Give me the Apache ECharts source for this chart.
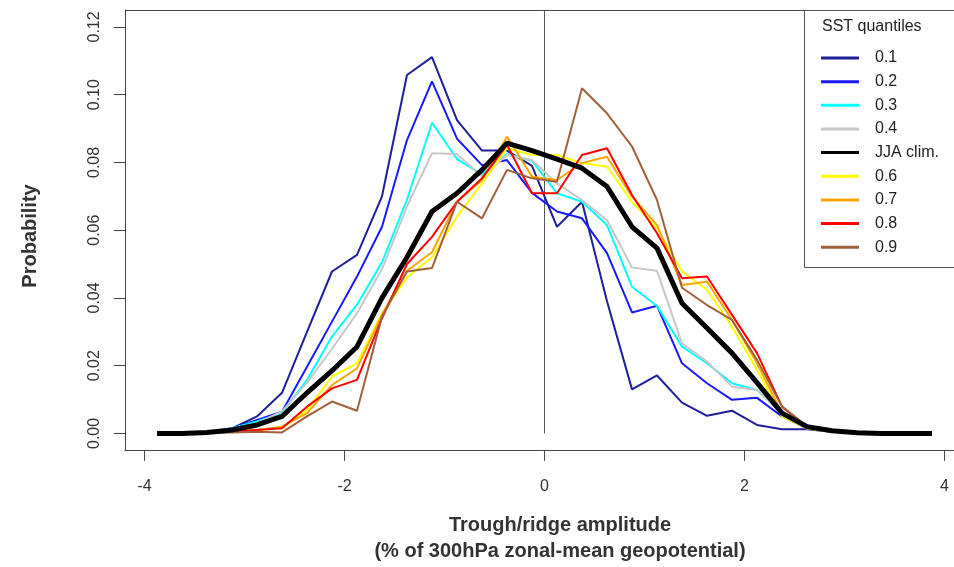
<!DOCTYPE html>
<html>
<head>
<meta charset="utf-8">
<script src="https://cdn.jsdelivr.net/npm/echarts@6/dist/echarts.min.js"></script>
<style>html,body{margin:0;padding:0;background:#fff}#c{width:954px;height:567px}</style>
</head>
<body>
<div id="c"></div>
<script>
var binCenters = [-3.875,-3.625,-3.375,-3.125,-2.875,-2.625,-2.375,-2.125,-1.875,-1.625,-1.375,-1.125,-0.875,-0.625,-0.375,-0.125,
                  0.125,0.375,0.625,0.875,1.125,1.375,1.625,1.875,2.125,2.375,2.625,2.875,3.125,3.375,3.625,3.875];
var xTicks = [-4,-2,0,2,4];
var yTicks = [0,0.02,0.04,0.06,0.08,0.10,0.12];

var q01 = [0,0,0.0003,0.0015,0.005,0.012,0.030,0.0478,0.0527,0.070,0.1058,0.1111,0.0925,0.0835,0.0835,0.079,
           0.061,0.0684,0.039,0.013,0.0171,0.0091,0.0052,0.0067,0.0025,0.0012,0.0012,0.0005,0.0002,0,0,0];
var q02 = [0,0,0.0003,0.0015,0.004,0.0064,0.0197,0.0330,0.0463,0.061,0.0866,0.1039,0.087,0.0792,0.0807,0.071,
           0.0655,0.0635,0.0532,0.0357,0.0377,0.0207,0.0148,0.0099,0.0105,0.005,0.0015,0.0005,0.0002,0,0,0];
var q03 = [0,0,0.0003,0.0015,0.0035,0.006,0.0158,0.0286,0.038,0.0505,0.069,0.0917,0.081,0.0765,0.0825,0.0805,
           0.0709,0.0684,0.0615,0.0433,0.0376,0.0256,0.0207,0.0148,0.0128,0.006,0.0015,0.0005,0.0002,0,0,0];
var q04 = [0,0,0.0003,0.0012,0.003,0.0065,0.015,0.025,0.0355,0.0485,0.067,0.0827,0.0825,0.0758,0.0822,0.0807,
           0.0738,0.0689,0.063,0.049,0.048,0.0266,0.0212,0.0138,0.0128,0.006,0.0015,0.0005,0.0002,0,0,0];
var jjaClim = [0,0,0.0003,0.001,0.0025,0.005,0.012,0.0185,0.0256,0.040,0.052,0.0655,0.0709,0.0778,0.0857,0.0835,
           0.081,0.0783,0.0729,0.061,0.0547,0.0384,0.0311,0.0237,0.015,0.006,0.002,0.0008,0.0002,0,0,0];
var q06 = [0,0,0.0002,0.0005,0.001,0.0015,0.0069,0.0168,0.0207,0.0355,0.046,0.052,0.064,0.0738,0.0842,0.0822,
           0.0822,0.0798,0.0788,0.0684,0.0606,0.0478,0.0424,0.0315,0.0187,0.005,0.0015,0.0005,0.0002,0,0,0];
var q07 = [0,0,0.0002,0.0005,0.001,0.002,0.006,0.0143,0.0192,0.035,0.048,0.0535,0.0684,0.0748,0.0876,0.0758,
           0.0748,0.0798,0.0817,0.0699,0.0615,0.0438,0.0448,0.0335,0.0207,0.006,0.0015,0.0005,0.0002,0,0,0];
var q08 = [0,0,0.0002,0.0005,0.001,0.0015,0.0079,0.0133,0.0158,0.034,0.050,0.058,0.0684,0.0753,0.0852,0.0709,
           0.0709,0.0822,0.0842,0.0704,0.0591,0.0458,0.0463,0.035,0.0237,0.0079,0.002,0.0008,0.0002,0,0,0];
var q09 = [0,0,0.0002,0.0003,0.0005,0.0003,0.005,0.0094,0.0067,0.0345,0.0478,0.0488,0.0684,0.0635,0.0778,0.0753,
           0.0743,0.1019,0.0945,0.0847,0.0689,0.043,0.0379,0.0335,0.0217,0.0079,0.002,0.0008,0.0002,0,0,0];

var seriesNames = ['0.1','0.2','0.3','0.4','JJA clim.','0.6','0.7','0.8','0.9'];
var seriesValues = [q01,q02,q03,q04,jjaClim,q06,q07,q08,q09];
var seriesColors = ['#1f1f99','#1a1aff','#00ffff','#c8c8c8','#000000','#ffff00','#ffa500','#ff0000','#a0603a'];

function pairs(vals){ return binCenters.map(function(x,i){ return [x, vals[i]]; }); }

var series = [];
series.push({
  type:'line', name:'zero', silent:true, symbol:'none', z:1,
  data:[[0,0],[0,0.125]],
  lineStyle:{color:'#555', width:1}
});
var drawOrder = [0,1,2,3,5,6,7,8,4];
drawOrder.forEach(function(i){
  var isClim = seriesNames[i] === 'JJA clim.';
  series.push({
    type:'line', name:seriesNames[i], symbol:'none', silent:true,
    data:pairs(seriesValues[i]),
    color:seriesColors[i],
    z: isClim ? 3 : 2,
    lineStyle:{color:seriesColors[i], width: isClim ? 5 : 2},
    itemStyle:{color:seriesColors[i]}
  });
});

var chart = echarts.init(document.getElementById('c'), null, {renderer:'canvas'});
var fontFam = '"Liberation Sans", Arial, Helvetica, sans-serif';
chart.setOption({
  animation:false,
  backgroundColor:'#fff',
  textStyle:{fontFamily:fontFam},
  grid:{left:125, top:10, right:0, height:440, show:false},
  xAxis:{
    type:'value', min:-4.195, max:4.095,
    axisLine:{show:true, onZero:false, lineStyle:{color:'#444', width:1}},
    axisTick:{show:true, customValues:xTicks, length:11, lineStyle:{color:'#444', width:1}},
    axisLabel:{customValues:xTicks, margin:29, fontSize:16, color:'#333', fontFamily:fontFam},
    splitLine:{show:false}
  },
  yAxis:{
    type:'value', min:-0.0049, max:0.125,
    axisLine:{show:true, onZero:false, lineStyle:{color:'#444', width:1}},
    axisTick:{show:true, customValues:yTicks, length:11, lineStyle:{color:'#444', width:1}},
    axisLabel:{customValues:yTicks, margin:22, fontSize:16, color:'#333', rotate:90, fontFamily:fontFam,
      formatter:function(v){ return v.toFixed(2); }},
    splitLine:{show:false}
  },
  legend:{
    show:true, orient:'vertical', left:821, top:50, padding:0,
    data:seriesNames, selectedMode:false,
    icon:'rect', itemWidth:38, itemHeight:3, itemGap:7.65,
    textStyle:{fontSize:16, color:'#222', lineHeight:16, padding:[0,0,0,11], fontFamily:fontFam},
    z:10
  },
  graphic:[
    {type:'line', z:7, shape:{x1:125, y1:10.5, x2:954, y2:10.5}, style:{stroke:'#444', lineWidth:1}},
    {type:'rect', z:8, shape:{x:804.5, y:10.5, width:200, height:257}, style:{fill:'#fff', stroke:'#555', lineWidth:1}},
    {type:'text', z:9, style:{x:822, y:27, text:'SST quantiles', fontSize:16, fill:'#222', fontFamily:fontFam, verticalAlign:'middle'}},
    {type:'text', z:9, rotation:Math.PI/2, x:30, y:236, style:{x:0, y:0, text:'Probability', fontSize:20, fontWeight:'bold', fill:'#333', fontFamily:fontFam, align:'center', verticalAlign:'middle'}},
    {type:'text', z:9, style:{x:560, y:525, text:'Trough/ridge amplitude', fontSize:20, fontWeight:'bold', fill:'#333', fontFamily:fontFam, align:'center', verticalAlign:'middle'}},
    {type:'text', z:9, style:{x:560, y:551, text:'(% of 300hPa zonal-mean geopotential)', fontSize:20, fontWeight:'bold', fill:'#333', fontFamily:fontFam, align:'center', verticalAlign:'middle'}}
  ],
  series:series
});
</script>
</body>
</html>
